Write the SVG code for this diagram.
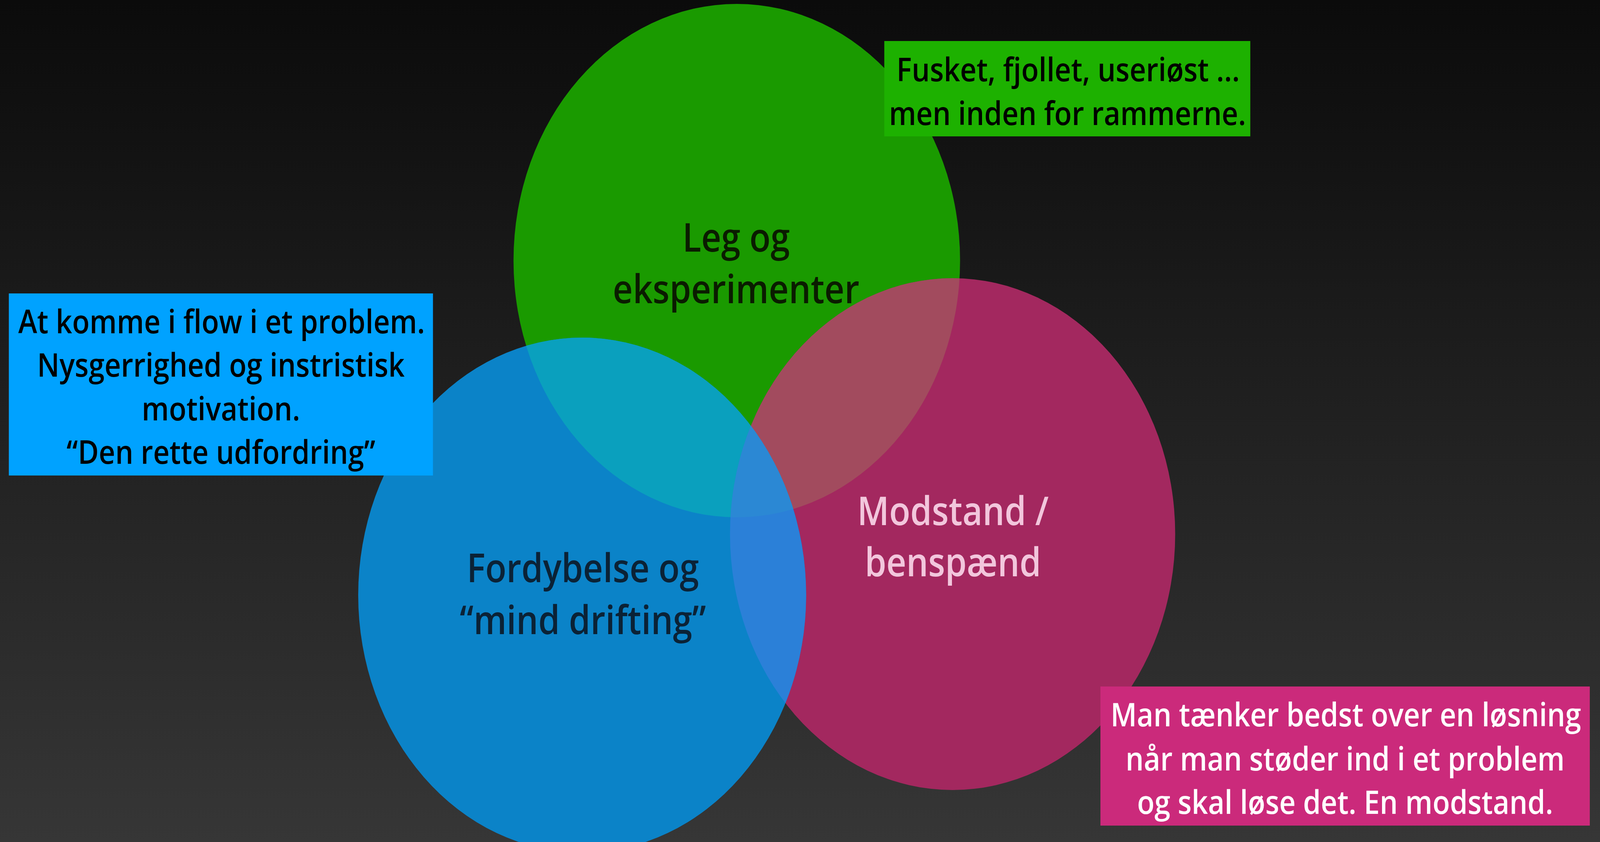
<svg xmlns="http://www.w3.org/2000/svg" width="4708" height="2155" viewBox="0 0 4708 2155" preserveAspectRatio="none" style="width:100vw;height:100vh">
<defs>
<linearGradient id="bg" x1="0" y1="0" x2="0" y2="1">
<stop offset="0" stop-color="#0b0b0b"/>
<stop offset="1" stop-color="#363636"/>
</linearGradient>
<clipPath id="cGreen"><circle cx="2168" cy="667" r="657"/></clipPath>
<clipPath id="cPink"><circle cx="2803" cy="1367" r="655"/></clipPath>
<style>
.lbl{font-family:"Open Sans",Lato,"Liberation Sans",sans-serif;font-weight:600;font-size:102px;text-anchor:middle}
.box{font-family:"Open Sans",Lato,"Liberation Sans",sans-serif;font-weight:600;font-size:84px;text-anchor:middle}
</style>
</defs>
<rect x="0" y="0" width="4708" height="2155" fill="url(#bg)"/>

<g id="circle-leg">
<circle cx="2168" cy="667" r="657" fill="#1a9a00"/>
</g>
<g id="circle-modstand">
<circle cx="2803" cy="1367" r="655" fill="#a3285f"/>
</g>
<g id="circle-fordybelse">
<circle cx="1713" cy="1523" r="659" fill="#0b83c8"/>
</g>

<g id="overlaps">
<g clip-path="url(#cGreen)"><circle cx="2803" cy="1367" r="655" fill="#a24b5e"/></g>
<g clip-path="url(#cGreen)"><circle cx="1713" cy="1523" r="659" fill="#0aa0be"/></g>
<g clip-path="url(#cPink)"><circle cx="1713" cy="1523" r="659" fill="#2b80d8"/></g>
<g clip-path="url(#cPink)"><g clip-path="url(#cGreen)"><circle cx="1713" cy="1523" r="659" fill="#2b88d4"/></g></g>
</g>

<g id="label-leg">
<text class="lbl" x="2166" y="644" fill="#0a1c00">Leg og</text>
<text class="lbl" x="2166" y="776" fill="#0a1c00">eksperimenter</text>
</g>
<g id="label-fordybelse">
<text class="lbl" x="1715" y="1490" fill="#0b2236">Fordybelse og</text>
<text class="lbl" x="1715" y="1623" fill="#0b2236">“mind drifting”</text>
</g>
<g id="label-modstand">
<text class="lbl" x="2804" y="1344" fill="#f2c6dc">Modstand /</text>
<text class="lbl" x="2804" y="1475" fill="#f2c6dc">benspænd</text>
</g>

<g id="box-green">
<rect x="2602" y="105" width="1077" height="244" fill="#1db100"/>
<text class="box" x="3143" y="208" fill="#000">Fusket, fjollet, useriøst ...</text>
<text class="box" x="3141" y="320" fill="#000">men inden for rammerne.</text>
</g>
<g id="box-blue">
<rect x="26" y="751" width="1248" height="466" fill="#00a2ff"/>
<text class="box" x="652" y="853" fill="#000">At komme i flow i et problem.</text>
<text class="box" x="650" y="964" fill="#000">Nysgerrighed og instristisk</text>
<text class="box" x="650" y="1076" fill="#000">motivation.</text>
<text class="box" x="650" y="1187" fill="#000">“Den rette udfordring”</text>
</g>
<g id="box-pink">
<rect x="3238" y="1757" width="1440" height="356" fill="#cb2a7b"/>
<text class="box" x="3960" y="1859" fill="#fff">Man tænker bedst over en løsning</text>
<text class="box" x="3958" y="1972" fill="#fff">når man støder ind i et problem</text>
<text class="box" x="3958" y="2083" fill="#fff">og skal løse det. En modstand.</text>
</g>
<g id="connectors"></g>
</svg>
